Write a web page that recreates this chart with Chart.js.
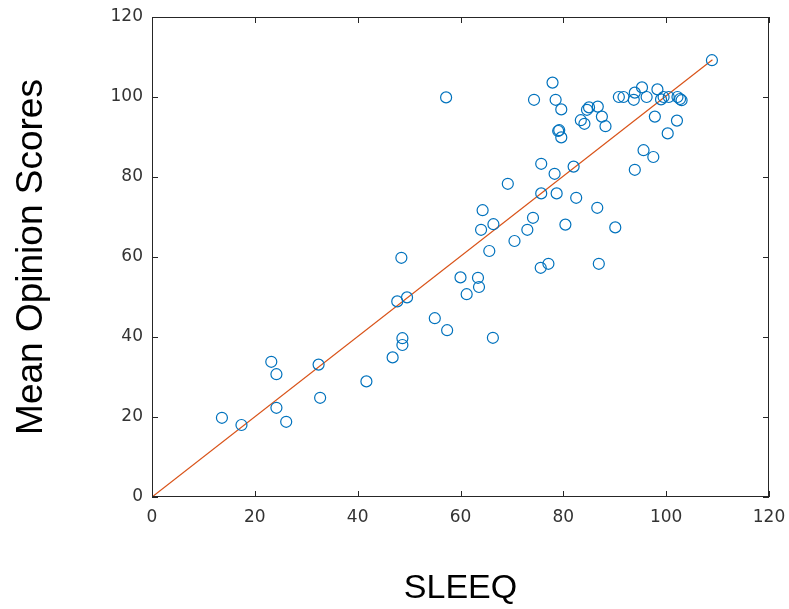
<!DOCTYPE html>
<html>
<head>
<meta charset="utf-8">
<script src="https://cdn.jsdelivr.net/npm/chart.js@4/dist/chart.umd.min.js"></script>
<style>
  html, body { margin: 0; padding: 0; background: #fff; }
  #wrap { width: 789px; height: 609px; }
</style>
</head>
<body>
<div id="wrap"><canvas id="chart" width="789" height="609"></canvas></div>
<script>
// data
const sleeqValues = [
  13.6, 17.4, 23.2, 24.2, 24.2, 26.1, 32.4, 32.7, 41.7, 46.8,
  47.7, 48.5, 48.7, 48.7, 49.6, 55.0, 57.2, 57.4, 60.0, 61.2,
  63.4, 63.6, 64.0, 64.3, 65.6, 66.4, 66.3, 69.2, 70.5, 73.0,
  74.1, 74.3, 75.6, 75.7, 75.7, 77.1, 77.9, 78.3, 78.5, 78.7,
  79.0, 79.2, 79.6, 79.6, 80.4, 82.0, 82.5, 83.4, 84.1, 84.6,
  85.0, 86.6, 86.7, 86.9, 87.5, 88.2, 90.1, 90.8, 91.7, 93.7,
  93.9, 93.9, 95.3, 95.6, 96.2, 97.5, 97.8, 98.3, 99.0, 99.5,
  100.3, 100.5, 102.1, 102.2, 102.7, 103.0, 108.9
];
const mosValues = [
  19.8, 18.0, 33.8, 30.7, 22.3, 18.8, 33.1, 24.8, 28.9, 34.9,
  48.9, 59.8, 39.7, 38.0, 49.9, 44.7, 99.9, 41.7, 54.9, 50.7,
  54.8, 52.5, 66.8, 71.7, 61.5, 68.2, 39.8, 78.3, 64.0, 66.8,
  69.8, 99.3, 57.3, 83.3, 75.9, 58.3, 103.6, 80.8, 99.3, 75.9,
  91.5, 91.7, 89.9, 96.9, 68.1, 82.6, 74.8, 94.2, 93.3, 96.8,
  97.4, 72.3, 97.6, 58.3, 95.1, 92.7, 67.4, 100.0, 100.0, 99.3,
  101.1, 81.8, 102.4, 86.7, 100.0, 85.0, 95.1, 101.9, 99.4, 100.0,
  90.9, 100.0, 94.1, 100.0, 99.5, 99.2, 109.2
];
// fitted line end points
const fitX = [0, 109];
const fitY = [0, 109.3];
const axisTicks = [0, 20, 40, 60, 80, 100, 120];

const points = sleeqValues.map((x, i) => ({ x: x, y: mosValues[i] }));
const fitLine = fitX.map((x, i) => ({ x: x, y: fitY[i] }));

// matlab style box with inward ticks
const boxPlugin = {
  id: "box",
  afterDatasetsDraw(chart) {
    const { ctx, chartArea: a, scales } = chart;
    ctx.save();
    ctx.strokeStyle = "#262626";
    ctx.lineWidth = 1;
    ctx.strokeRect(a.left + 0.5, a.top + 0.5, a.right - a.left - 1, a.bottom - a.top - 1);
    ctx.beginPath();
    axisTicks.forEach((v) => {
      const px = Math.round(scales.x.getPixelForValue(v)) + 0.5;
      ctx.moveTo(px, a.bottom); ctx.lineTo(px, a.bottom - 6);
      ctx.moveTo(px, a.top); ctx.lineTo(px, a.top + 6);
      const py = Math.round(scales.y.getPixelForValue(v)) + 0.5;
      ctx.moveTo(a.left, py); ctx.lineTo(a.left + 6, py);
      ctx.moveTo(a.right, py); ctx.lineTo(a.right - 6, py);
    });
    ctx.stroke();
    ctx.restore();
  }
};

const tickFont = { family: "'DejaVu Sans', sans-serif", size: 17 };

new Chart(document.getElementById("chart"), {
  type: "scatter",
  data: {
    datasets: [
      {
        label: "Scores",
        data: points,
        pointStyle: "circle",
        pointRadius: 5.5,
        pointBorderWidth: 1.2,
        pointBorderColor: "#0072BD",
        pointBackgroundColor: "rgba(0,0,0,0)",
        showLine: false
      },
      {
        label: "Fit",
        data: fitLine,
        type: "line",
        showLine: true,
        borderColor: "#D95319",
        borderWidth: 1.2,
        pointRadius: 0,
        fill: false
      }
    ]
  },
  options: {
    responsive: false,
    animation: false,
    layout: { padding: { top: 17, right: 20, left: 0, bottom: 0 } },
    plugins: {
      legend: { display: false },
      tooltip: { enabled: false }
    },
    scales: {
      x: {
        type: "linear",
        min: 0,
        max: 120,
        afterFit: (s) => { s.height = 112; s.paddingLeft = 0; s.paddingRight = 0; },
        afterBuildTicks: (s) => { s.ticks = axisTicks.map((v) => ({ value: v })); },
        grid: { display: false, drawTicks: false },
        border: { display: false },
        ticks: { color: "#333", font: tickFont, padding: 10, maxRotation: 0 },
        title: {
          display: true,
          text: "SLEEQ",
          color: "#000",
          font: { family: "'Liberation Sans', Arial, sans-serif", size: 34 },
          padding: { top: 8, bottom: 0 }
        }
      },
      y: {
        type: "linear",
        min: 0,
        max: 120,
        afterFit: (s) => { s.width = 152; s.paddingTop = 0; s.paddingBottom = 0; },
        afterBuildTicks: (s) => { s.ticks = axisTicks.map((v) => ({ value: v })); },
        grid: { display: false, drawTicks: false },
        border: { display: false },
        ticks: { color: "#333", font: tickFont, padding: 9 },
        title: {
          display: true,
          text: "Mean Opinion Scores",
          color: "#000",
          font: { family: "'Liberation Sans', Arial, sans-serif", size: 37 },
          padding: { top: 10, bottom: 0 }
        }
      }
    }
  },
  plugins: [boxPlugin]
});
</script>
</body>
</html>
